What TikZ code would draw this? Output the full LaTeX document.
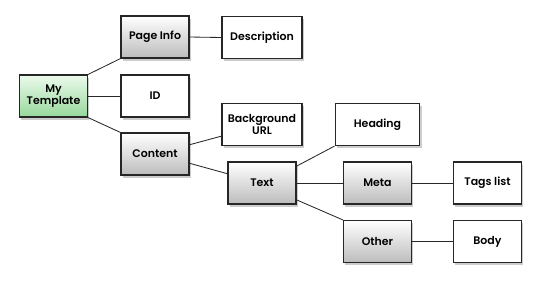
\documentclass[tikz,border=0pt]{standalone}
\usepackage{fontspec}
\setmainfont{Poppins}[UprightFont=*-SemiBold,BoldFont=*-Bold]
\usepackage{tikz}
\usepackage{xcolor}
\usetikzlibrary{shadows}
\definecolor{boxgray}{RGB}{188,188,188}
\definecolor{greentop}{RGB}{236,250,236}
\definecolor{greenbot}{RGB}{150,216,155}
\definecolor{linegray}{RGB}{40,40,40}
\tikzset{
  box/.style={draw=black!85,line width=0.8pt,inner sep=1pt,align=center,
    minimum width=1.7cm,minimum height=1.05cm,font=\fontsize{7.8}{9}\selectfont,
    drop shadow={shadow xshift=1.4pt,shadow yshift=-1.9pt,opacity=0.4}},
  leafbox/.style={box,fill=white},
  midbox/.style={box,top color=white,bottom color=boxgray},
  rootbox/.style={box,top color=greentop,bottom color=greenbot},
  link/.style={draw=linegray,line width=0.6pt}
}
\begin{document}
\begin{tikzpicture}[x=0.025cm,y=0.025cm]
\useasboundingbox[fill=white] (0,0) rectangle (540,-285);
\node[rootbox] (mytmpl) at (53.5,-96) {My\\Template};
\node[midbox] (pageinfo) at (155,-37) {Page Info};
\node[leafbox,minimum width=2cm] (desc) at (262,-37.5) {Description};
\node[leafbox] (id) at (155,-96) {ID};
\node[midbox] (content) at (155,-154) {Content};
\node[leafbox,minimum width=2cm] (bgurl) at (262,-124.5) {Background\\URL};
\node[midbox] (text) at (262,-183) {Text};
\node[leafbox,minimum width=2.12cm] (heading) at (377.5,-124.5) {Heading};
\node[midbox] (meta) at (377.5,-183) {Meta};
\node[leafbox] (tags) at (487.5,-183) {Tags list};
\node[midbox] (other) at (377.5,-241.5) {Other};
\node[leafbox] (body) at (487.5,-241.5) {Body};
% connectors
\draw[link] (mytmpl.north east) -- (pageinfo.south west);
\draw[link] (mytmpl.east) -- (id.west);
\draw[link] (mytmpl.south east) -- (content.north west);
\draw[link] (pageinfo.east) -- (desc.west);
\draw[link] (content.15) -- (bgurl.196);
\draw[link] (content.-15) -- (text.165);
\draw[link] (text.26.6) -- (heading.south west);
\draw[link] (text.east) -- (meta.west);
\draw[link] (text.-26.6) -- (other.north west);
\draw[link] (meta.east) -- (tags.west);
\draw[link] (other.east) -- (body.west);
\end{tikzpicture}
\end{document}
